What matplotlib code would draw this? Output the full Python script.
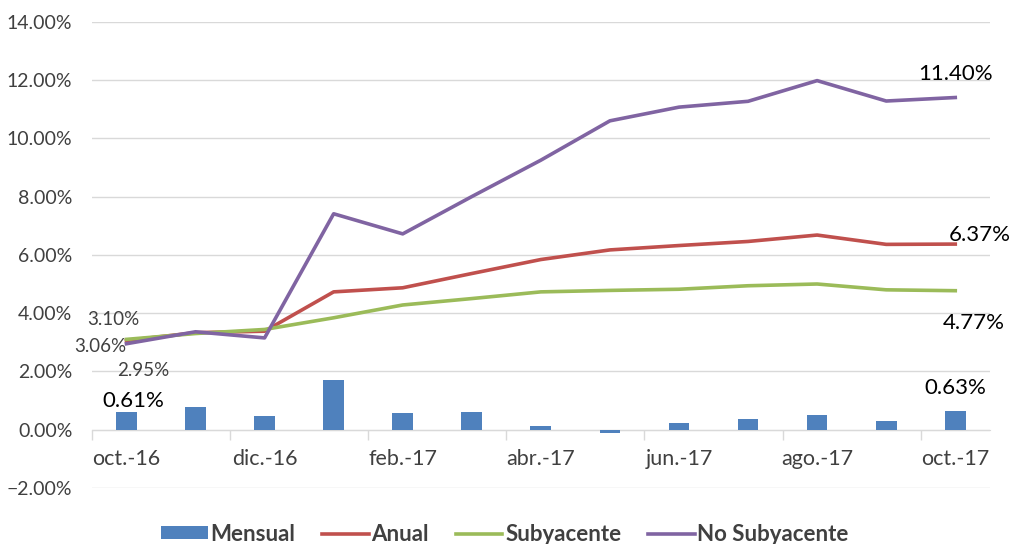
import numpy as np
import matplotlib.pyplot as plt
from matplotlib.ticker import FixedLocator, PercentFormatter

plt.rcParams['font.family'] = ['Lato', 'DejaVu Sans']

# monthly series, oct.-16 .. oct.-17
months = ["oct.-16", "nov.-16", "dic.-16", "ene.-17", "feb.-17", "mar.-17", "abr.-17",
          "may.-17", "jun.-17", "jul.-17", "ago.-17", "sep.-17", "oct.-17"]
mensual = [0.61, 0.79, 0.47, 1.71, 0.58, 0.61, 0.13, -0.10, 0.24, 0.38, 0.49, 0.31, 0.63]
anual = [3.06, 3.33, 3.38, 4.73, 4.87, 5.36, 5.84, 6.17, 6.32, 6.46, 6.68, 6.36, 6.37]
subyacente = [3.10, 3.30, 3.44, 3.84, 4.28, 4.50, 4.73, 4.78, 4.82, 4.94, 5.00, 4.80, 4.77]
no_subyacente = [2.95, 3.36, 3.15, 7.41, 6.72, 8.00, 9.25, 10.60, 11.07, 11.27, 11.98, 11.28, 11.40]

blue, red, green, purple = "#4f81bd", "#c0504d", "#9bbb59", "#8064a2"
grey_txt = "#404040"

fig = plt.figure(figsize=(10.1, 5.44), dpi=100)
ax = fig.add_axes([0.091, 0.103, 0.889, 0.857])

x = np.arange(len(months))
b = ax.bar(x, mensual, width=0.3, color=blue, label="Mensual", zorder=2)
l1, = ax.plot(x, anual, color=red, lw=2.6, label="Anual", zorder=3)
l2, = ax.plot(x, subyacente, color=green, lw=2.6, label="Subyacente", zorder=3)
l3, = ax.plot(x, no_subyacente, color=purple, lw=2.6, label="No Subyacente", zorder=4)

ax.set_xlim(-0.5, len(months) - 0.5)
ax.set_ylim(-2, 14)
ax.set_yticks(np.arange(-2, 15, 2))
ax.yaxis.set_major_formatter(PercentFormatter(decimals=2))
ax.grid(axis="y", color="#d9d9d9", lw=1, zorder=0)

for s in ["left", "right", "top"]:
    ax.spines[s].set_visible(False)
ax.spines["bottom"].set_position(("data", 0))
ax.spines["bottom"].set_color("#d9d9d9")
ax.spines["bottom"].set_zorder(1)

ax.set_xticks(x[::2])
ax.set_xticklabels(months[::2])
ax.xaxis.set_minor_locator(FixedLocator(np.arange(-0.5, len(months), 2)))
ax.tick_params(axis="x", which="major", length=0, pad=14, labelsize=15.5, labelcolor=grey_txt)
ax.tick_params(axis="x", which="minor", length=7, color="#d9d9d9", width=1)
ax.tick_params(axis="y", length=0, pad=14, labelsize=14, labelcolor=grey_txt)

# data labels at first month
ax.text(-0.19, 3.78, "3.10%", fontsize=13.5, color=grey_txt, ha="center", va="center")
ax.text(-0.38, 2.84, "3.06%", fontsize=13.5, color=grey_txt, ha="center", va="center")
ax.text(0.25, 2.02, "2.95%", fontsize=13.5, color=grey_txt, ha="center", va="center")
ax.text(0.1, 0.97, "0.61%", fontsize=16, color="black", ha="center", va="center")
# data labels at last month
ax.text(12, 12.22, "11.40%", fontsize=16, color="black", ha="center", va="center")
ax.text(12.35, 6.68, "6.37%", fontsize=16, color="black", ha="center", va="center")
ax.text(12.27, 3.66, "4.77%", fontsize=16, color="black", ha="center", va="center")
ax.text(12, 1.43, "0.63%", fontsize=16, color="black", ha="center", va="center")

leg = fig.legend([b, l1, l2, l3], ["Mensual", "Anual", "Subyacente", "No Subyacente"],
                 loc="lower center", bbox_to_anchor=(0.5, -0.038), ncol=4, frameon=False,
                 prop={"weight": "bold", "size": 16}, handlelength=2.1, columnspacing=1.2,
                 handletextpad=0.12, handleheight=0.5)
for t in leg.get_texts():
    t.set_color(grey_txt)

fig.savefig("out.png", dpi=100)
